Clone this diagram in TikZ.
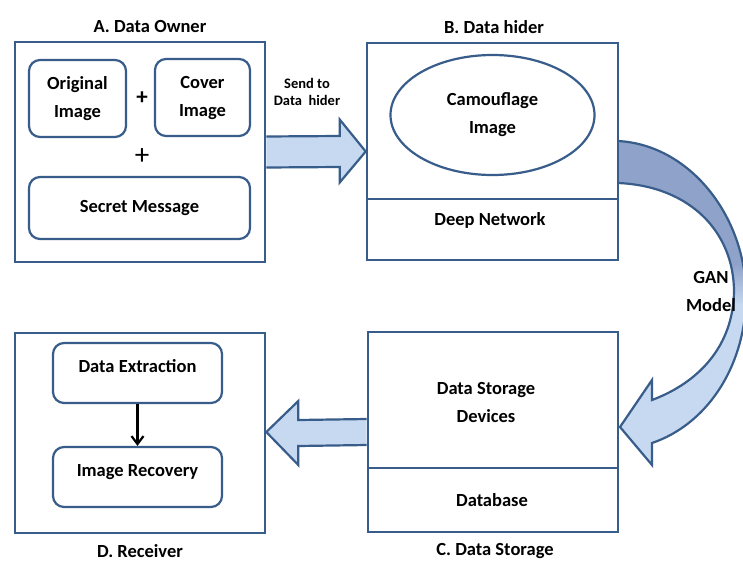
\documentclass[tikz,border=0pt]{standalone}
\usepackage{fontspec}
\setmainfont{Carlito}
\usetikzlibrary{calc,shapes.geometric,arrows.meta}
\definecolor{edge}{HTML}{385D8A}
\definecolor{flow}{HTML}{C6D9F1}
\definecolor{flowdark}{HTML}{8FA3CA}
\begin{document}
\begin{tikzpicture}[x=1pt,y=-1pt,
  every node/.style={font=\fontsize{18.5}{28}\selectfont\bfseries, align=center, inner sep=0pt},
  panel/.style={draw=edge, line width=2.6pt, fill=white},
  roundbox/.style={draw=edge, line width=2.2pt, rounded corners=11pt},
  fatarrow/.style={draw=edge, line width=2.2pt, fill=flow, line join=miter},
  caption/.style={font=\fontsize{18.5}{22}\selectfont\bfseries},
  small/.style={font=\fontsize{14.5}{17}\selectfont\bfseries}]
\clip (0,0) rectangle (743,562);
\fill[white] (0,0) rectangle (743,562);

% GAN model: curved band from the data hider down to the data storage
\begin{scope}
  \path[clip] (618,141) .. controls (692,145) and (748,220) .. (746,300)
        .. controls (744,370) and (705,425) .. (652,443)
        -- (652,465) -- (620,427) -- (652,380) -- (652,400)
        .. controls (700,382) and (733,345) .. (734,292)
        .. controls (734,232) and (690,186) .. (618,183) -- cycle;
  \fill[flow] (600,120) rectangle (750,480);
  \fill[flowdark] (600,120) rectangle (750,265);
  \shade[top color=flowdark, bottom color=flow] (600,264) rectangle (750,305);
\end{scope}
\draw[edge, line width=2.2pt, line join=miter]
  (618,141) .. controls (692,145) and (748,220) .. (746,300)
        .. controls (744,370) and (705,425) .. (652,443)
        -- (652,465) -- (620,427) -- (652,380) -- (652,400)
        .. controls (700,382) and (733,345) .. (734,292)
        .. controls (734,232) and (690,186) .. (618,183);
\node (gan) at (711,291) {GAN\\Model};

% A. Data owner
\node[panel, minimum width=250pt, minimum height=220pt] (A) at (140,152) {};
\node[caption] (Acap) at (150,27) {A.\ Data Owner};
\node[roundbox, minimum width=97pt, minimum height=77pt] (orig) at (77.5,98.5) {Original\\Image};
\node[roundbox, minimum width=95pt, minimum height=77pt] (cover) at (202.5,97.5) {Cover\\Image};
\node[font=\fontsize{23}{23}\selectfont\bfseries] (plus1) at (142,98) {+};
\node[font=\fontsize{29}{29}\selectfont] (plus2) at (142,157) {+};
\node[roundbox, minimum width=221pt, minimum height=62pt] (secret) at (139.5,208) {Secret Message};

% B. Data hider
\node[panel, minimum width=251pt, minimum height=217pt] (B) at (492.5,151.5) {};
\node[caption] (Bcap) at (494,27) {B.\ Data hider};
\draw[edge, line width=2.6pt] (B.west |- 0,199) coordinate (bl) -- (B.east |- 0,199) coordinate (br);
\node[draw=edge, line width=2.2pt, ellipse, minimum width=204pt, minimum height=120pt] (camo) at (492.5,115) {Camouflage\\Image};
\node (deep) at (490,220) {Deep Network};

% Send to data hider
\draw[fatarrow] ($(A.east)+(0,-15.5)$) -- ($(B.west)+(-26,-15.5)$) -- ($(B.west)+(-26,-32)$)
  -- (B.west) -- ($(B.west)+(-26,31)$) -- ($(B.west)+(-26,15.5)$) -- ($(A.east)+(0,15.5)$);
\node[small] (send) at (307,91.5) {Send to\\Data\ \ hider};

% C. Data storage
\node[panel, minimum width=250pt, minimum height=200pt] (C) at (493,432) {};
\node[caption] (Ccap) at (495,551) {C.\ Data Storage};
\draw[edge, line width=2.6pt] (C.west |- 0,468) coordinate (cl) -- (C.east |- 0,468) coordinate (cr);
\node (devices) at (486,402) {Data Storage\\Devices};
\node (db) at (492,500) {Database};

% D. Receiver
\node[panel, minimum width=250pt, minimum height=200pt] (D) at (140,433) {};
\node[caption] (Dcap) at (140,551) {D.\ Receiver};
\node[roundbox, minimum width=169pt, minimum height=60pt] (extract) at (137.5,373) {};
\node (extracttxt) at (137.5,366) {Data Extraction};
\node[roundbox, minimum width=169pt, minimum height=60pt] (recover) at (137.5,477) {};
\node (recovertxt) at (137.5,472) {Image Recovery};
\draw[line width=2.2pt, -{Straight Barb[length=8pt,width=12pt]}] (extract) -- (recover);

% Storage to receiver
\draw[fatarrow] ($(C.west)+(0,-13)$) -- ($(D.east)+(32,-13)$) -- ($(D.east)+(32,-32)$)
  -- ($(D.east)+(0,-1)$) -- ($(D.east)+(32,32)$) -- ($(D.east)+(32,13)$) -- ($(C.west)+(0,13)$);
\end{tikzpicture}
\end{document}
